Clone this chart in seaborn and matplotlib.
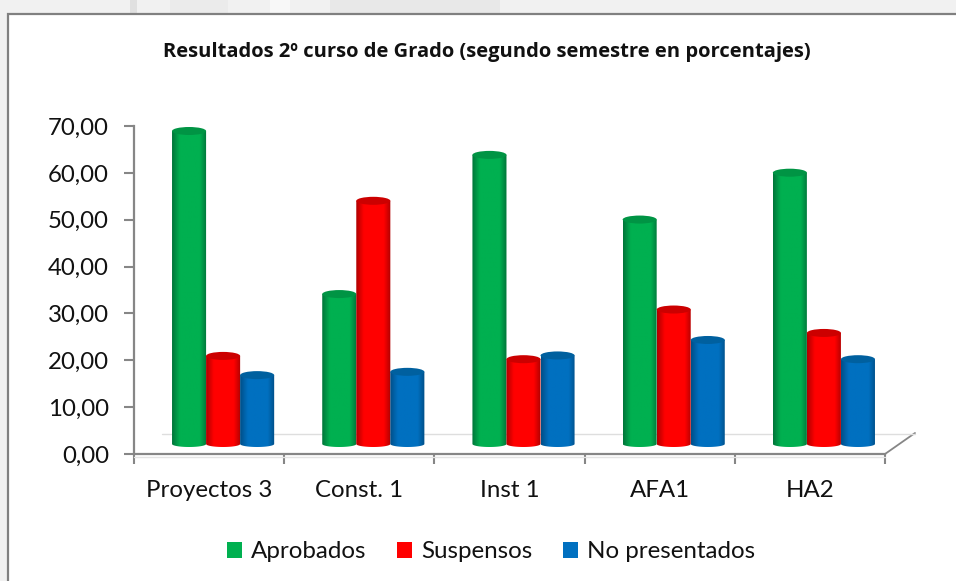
import matplotlib
matplotlib.use("Agg")
import matplotlib.pyplot as plt
from matplotlib.colors import LinearSegmentedColormap
from matplotlib.patches import Ellipse, Patch, Polygon, Rectangle
import numpy as np
import pandas as pd
import seaborn as sns

asignaturas = ["Proyectos 3", "Const. 1", "Inst 1", "AFA1", "HA2"]
series = ["Aprobados", "Suspensos", "No presentados"]
aprobados = [66.8, 32.0, 61.7, 47.9, 57.9]
suspensos = [18.8, 51.9, 18.1, 28.7, 23.7]
no_presentados = [14.7, 15.4, 18.9, 22.2, 18.1]
y_ticks = [0, 10, 20, 30, 40, 50, 60, 70]
titulo = "Resultados 2º curso de Grado (segundo semestre en porcentajes)"

base_colors = ["#00b050", "#ff0000", "#0070c0"]
dark_colors = ["#00753a", "#b00000", "#004f88"]
top_colors = ["#009444", "#cc0000", "#00609f"]
GREY = "#868686"
W, H = 956, 581


def fx(px):
    return px / W


def fy(px):
    return 1 - px / H


sns.set_theme(style="white")
plt.rcParams["font.family"] = ["Lato", "DejaVu Sans"]

fig = plt.figure(figsize=(W / 100, H / 100), dpi=100, facecolor="#f1f1f1")

# faint background picture showing around the chart panel
for x0, x1, c in [(130, 137, "#e0e0e0"), (170, 228, "#ebebeb"), (270, 290, "#f8f8f8"), (330, 500, "#e8e8e8")]:
    fig.add_artist(Rectangle((fx(x0), fy(14)), (x1 - x0) / W, 14 / H, transform=fig.transFigure,
                             facecolor=c, edgecolor="none", zorder=-3))
fig.add_artist(Rectangle((fx(8), fy(H + 10)), (W + 10) / W, (H - 4) / H, transform=fig.transFigure,
                         facecolor="white", edgecolor="#808080", linewidth=1.6, zorder=-2))

# back axes carry the axis lines and tick labels
ax = fig.add_axes([fx(134), fy(454), 751 / W, 328 / H])
ax.patch.set_alpha(0)
ax.set_xlim(0, 5)
ax.set_ylim(0, 70)
ax.set_xticks(range(6))
ax.set_xticklabels([])
ax.set_xticks(np.arange(0.5, 5), labels=asignaturas, minor=True)
ax.set_yticks(y_ticks, labels=[f"{v:.2f}".replace(".", ",") for v in y_ticks])
ax.tick_params(axis="both", which="major", length=7, width=1.5, color=GREY, left=True, bottom=True)
ax.tick_params(axis="x", which="minor", length=0, labelsize=17.3, pad=19, labelcolor="#111111")
ax.tick_params(axis="y", labelsize=17.3, pad=11, labelcolor="#111111")
for side in ["top", "right"]:
    ax.spines[side].set_visible(False)
for side in ["left", "bottom"]:
    ax.spines[side].set_color(GREY)
    ax.spines[side].set_linewidth(1.6)

# floor edge, back wall line and the pale shadow under the axis
ax.plot([(885 - 134) / 751, (915 - 134) / 751], [0, 21 / 328], transform=ax.transAxes,
        color=GREY, lw=1.3, clip_on=False)
ax.plot([(162 - 134) / 751, (915 - 134) / 751], [20 / 328, 20 / 328], transform=ax.transAxes,
        color="#dedede", lw=1, clip_on=False)
ax.plot([0, 1], [-3 / 328, -3 / 328], transform=ax.transAxes, color="#e4e4e4", lw=1, clip_on=False, zorder=1)

# bars sit on the floor, so their axes are shifted from the axis lines
ax_bars = fig.add_axes([fx(148), fy(444), 751 / W, 328 / H])
ax_bars.patch.set_alpha(0)

df = pd.DataFrame({
    "asignatura": asignaturas * 3,
    "serie": np.repeat(series, len(asignaturas)),
    "valor": aprobados + suspensos + no_presentados,
})
sns.barplot(data=df, x="asignatura", y="valor", hue="serie", hue_order=series, palette=base_colors,
            width=0.68, gap=0, legend=False, ax=ax_bars)
ax_bars.set_xlim(-0.5, 4.5)
ax_bars.set_ylim(0, 70)
ax_bars.axis("off")

# turn every flat bar into a shaded cylinder
ELL_H = 8 / (328 / 70)
BOT_H = 6 / (328 / 70)
n_cat = len(asignaturas)
for i, bar in enumerate(list(ax_bars.patches)):
    k = i // n_cat
    x0, w, h = bar.get_x(), bar.get_width(), bar.get_height()
    bar.set_visible(False)
    cmap = LinearSegmentedColormap.from_list(
        "cyl", [(0, dark_colors[k]), (0.22, base_colors[k]), (0.8, base_colors[k]), (1, dark_colors[k])])
    t = np.linspace(np.pi, 2 * np.pi, 30)
    arc = np.column_stack([x0 + w / 2 + w / 2 * np.cos(t), BOT_H / 2 * np.sin(t)])
    outline = np.vstack([[[x0, h]], arc, [[x0 + w, h]]])
    body = Polygon(outline, closed=True, facecolor="none", edgecolor="none", transform=ax_bars.transData)
    ax_bars.add_patch(body)
    im = ax_bars.imshow(np.linspace(0, 1, 64).reshape(1, -1), extent=[x0, x0 + w, -2, h], aspect="auto",
                        cmap=cmap, zorder=2, interpolation="bilinear")
    im.set_clip_path(body)
    im.set_clip_box(fig.bbox)
    ax_bars.add_patch(Ellipse((x0 + w / 2, h), w, ELL_H, facecolor=top_colors[k], edgecolor="none",
                              zorder=3, clip_on=False))
ax_bars.set_xlim(-0.5, 4.5)
ax_bars.set_ylim(0, 70)

fig.text(fx(487), fy(52), titulo, ha="center", va="center", fontsize=14.5, fontweight="bold", color="#111111",
         family=["Open Sans", "DejaVu Sans"])

handles = [Patch(facecolor=c, edgecolor="none", label=s) for c, s in zip(base_colors, series)]
fig.legend(handles=handles, ncol=3, frameon=False, loc="center", bbox_to_anchor=(fx(491), fy(552)),
           fontsize=17.4, handlelength=0.62, handleheight=0.62, handletextpad=0.38, columnspacing=1.25,
           labelcolor="#111111")

fig.savefig("out.png", dpi=100, facecolor=fig.get_facecolor())
